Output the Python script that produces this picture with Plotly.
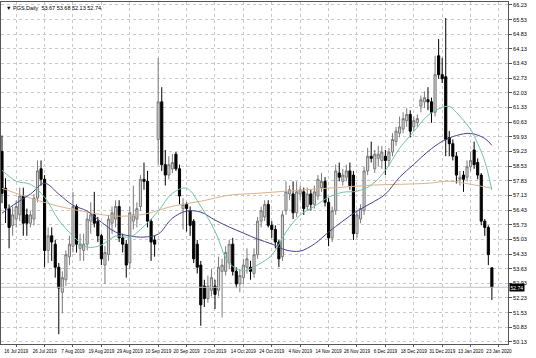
import plotly.graph_objects as go

# ---------------- data ----------------
tick_labels = ["16 Jul 2019", "26 Jul 2019", "7 Aug 2019", "19 Aug 2019", "29 Aug 2019",
               "10 Sep 2019", "20 Sep 2019", "2 Oct 2019", "14 Oct 2019", "24 Oct 2019",
               "4 Nov 2019", "14 Nov 2019", "26 Nov 2019", "6 Dec 2019", "18 Dec 2019",
               "31 Dec 2019", "13 Jan 2020", "23 Jan 2020"]

bar_open = [59.23, 57.47, 56.50, 55.70, 56.00, 56.20, 57.10, 56.20, 55.80, 56.00,
            57.00, 58.40, 57.90, 54.50, 55.20, 54.80, 53.70, 52.50, 53.10, 54.20,
            54.70, 56.60, 54.60, 54.50, 54.80, 55.90, 56.20, 55.90, 55.20, 53.80,
            54.30, 55.80, 56.00, 56.60, 55.10, 54.80, 53.90, 55.90, 56.00, 56.60,
            57.90, 57.80, 55.90, 55.00, 59.80, 61.60, 58.60, 58.10, 58.40, 59.10,
            58.40, 56.50, 56.70, 56.40, 55.90, 54.80, 53.80, 52.80, 52.20, 52.60,
            52.80, 52.60, 53.50, 53.50, 53.90, 54.80, 53.50, 52.90, 53.20, 53.70,
            53.70, 53.40, 54.30, 55.90, 56.10, 56.70, 55.70, 55.50, 54.90, 54.20,
            56.40, 57.20, 57.20, 56.30, 57.20, 57.30, 56.60, 57.20, 56.70, 57.10,
            57.50, 57.80, 56.80, 55.10, 56.40, 58.20, 57.80, 58.00, 58.30, 58.10,
            55.30, 56.00, 56.40, 58.30, 59.00, 58.40, 58.90, 58.80, 59.00, 58.80,
            59.20, 59.70, 60.10, 60.30, 60.70, 61.00, 60.40, 60.60, 61.40, 61.60,
            61.70, 61.60, 61.10, 63.80, 62.90, 62.80, 59.90, 59.60, 59.00, 57.90,
            58.10, 58.00, 58.50, 59.30, 58.70, 58.10, 55.90, 55.60, 53.67]
bar_high = [59.99, 57.95, 56.70, 56.60, 56.90, 57.50, 57.50, 56.50, 56.40, 57.20,
            58.80, 58.80, 58.10, 55.60, 55.60, 55.00, 53.90, 53.50, 54.50, 55.20,
            57.30, 56.70, 55.30, 55.30, 56.30, 56.80, 57.30, 56.10, 55.30, 54.70,
            56.20, 56.60, 56.90, 56.90, 55.30, 55.00, 56.60, 57.60, 56.80, 58.10,
            58.70, 58.30, 56.00, 55.20, 63.70, 62.30, 59.30, 59.00, 59.10, 59.20,
            58.60, 57.00, 56.80, 56.60, 56.00, 55.00, 54.00, 53.10, 53.30, 53.60,
            53.10, 54.20, 54.10, 54.70, 55.00, 55.10, 53.70, 53.60, 54.10, 54.60,
            54.00, 54.60, 56.10, 56.60, 56.90, 56.90, 55.90, 55.70, 55.00, 56.40,
            57.80, 57.60, 57.80, 57.80, 57.60, 57.50, 57.50, 57.40, 57.60, 58.10,
            58.20, 58.00, 57.00, 56.60, 58.60, 58.70, 58.40, 58.60, 58.70, 58.30,
            56.40, 56.70, 58.50, 59.40, 59.70, 59.30, 59.50, 59.50, 59.30, 59.40,
            60.10, 60.40, 60.90, 61.10, 61.30, 61.20, 60.90, 61.00, 61.90, 62.10,
            62.30, 61.80, 63.80, 64.60, 63.70, 65.60, 60.20, 59.80, 59.20, 58.30,
            58.30, 58.80, 59.20, 59.70, 58.90, 58.20, 56.00, 55.70, 53.68]
bar_low = [56.76, 55.81, 54.60, 55.20, 55.60, 55.90, 55.20, 55.20, 55.60, 55.70,
           56.80, 57.60, 53.70, 53.90, 54.00, 53.20, 50.50, 51.50, 52.80, 53.80,
           54.40, 54.40, 54.00, 54.00, 54.50, 55.30, 55.60, 54.90, 53.80, 52.90,
           54.00, 55.30, 55.60, 54.90, 54.40, 53.20, 53.60, 55.50, 55.60, 56.40,
           57.40, 55.60, 54.00, 54.20, 58.60, 58.30, 57.60, 57.90, 58.20, 58.30,
           56.70, 55.50, 55.40, 55.20, 53.90, 53.40, 50.90, 51.80, 52.00, 52.30,
           51.70, 52.30, 51.30, 53.30, 53.60, 53.30, 52.70, 52.50, 52.90, 53.40,
           53.10, 53.20, 54.10, 55.60, 55.90, 55.60, 55.10, 54.60, 53.70, 54.00,
           56.20, 56.90, 56.00, 56.10, 56.90, 56.20, 56.40, 56.40, 56.50, 56.90,
           57.30, 56.60, 54.70, 54.90, 56.20, 57.80, 57.60, 57.80, 57.40, 55.00,
           55.10, 55.80, 56.20, 58.10, 58.70, 58.20, 58.50, 58.40, 58.10, 58.50,
           59.00, 59.50, 59.90, 60.10, 60.40, 59.90, 60.20, 60.40, 61.10, 61.30,
           61.20, 60.60, 60.90, 62.70, 62.50, 59.00, 59.00, 58.80, 57.70, 57.60,
           57.30, 57.80, 58.30, 58.40, 57.90, 55.70, 55.20, 53.80, 52.13]
bar_close = [57.23, 56.52, 55.60, 56.20, 56.60, 57.10, 55.80, 55.80, 56.20, 57.00,
             58.30, 57.90, 54.50, 55.20, 54.90, 53.70, 52.70, 53.20, 54.30, 54.80,
             56.60, 54.80, 54.80, 54.80, 56.00, 56.20, 55.80, 55.20, 54.10, 54.40,
             56.00, 56.30, 56.60, 55.10, 54.80, 53.80, 56.30, 56.20, 56.50, 57.90,
             57.80, 55.90, 54.90, 54.80, 61.60, 58.60, 58.10, 58.60, 58.70, 58.40,
             57.10, 56.70, 56.50, 55.70, 54.10, 53.70, 51.90, 52.20, 52.80, 53.20,
             52.40, 53.70, 53.80, 54.40, 54.80, 53.50, 52.90, 53.30, 53.80, 54.10,
             53.50, 54.30, 55.90, 56.40, 56.70, 55.70, 55.50, 54.90, 54.10, 56.20,
             57.30, 57.40, 56.30, 57.30, 57.40, 56.50, 57.20, 56.70, 57.30, 57.90,
             57.80, 56.80, 55.10, 56.40, 58.30, 58.00, 58.10, 58.30, 57.60, 55.30,
             56.20, 56.50, 58.30, 59.00, 58.90, 59.10, 59.10, 59.20, 58.80, 59.20,
             59.80, 60.20, 60.40, 60.80, 61.00, 60.20, 60.70, 60.80, 61.70, 61.80,
             61.60, 61.10, 62.90, 62.90, 62.70, 59.80, 59.60, 59.00, 58.10, 58.00,
             57.90, 58.50, 58.80, 58.60, 58.10, 55.90, 55.60, 54.30, 52.74]

ma_fast_idx = [0, 4, 8, 12, 16, 20, 24, 28, 32, 36, 40, 44, 48, 52, 56, 60, 64, 68, 72,
               76, 80, 84, 88, 92, 96, 100, 104, 108, 112, 116, 120, 124, 126, 128,
               132, 134, 136, 138]
ma_fast_val = [58.33, 57.81, 57.66, 57.04, 55.95, 55.19, 54.66, 54.76, 55.19, 55.14,
               55.66, 56.38, 57.23, 57.47, 56.61, 55.42, 53.90, 53.52, 53.81, 54.28,
               55.38, 56.19, 56.61, 57.04, 57.28, 57.33, 57.62, 58.33, 59.38, 60.18,
               60.95, 61.33, 61.38, 61.09, 60.28, 59.61, 58.76, 57.38]

ma_mid_idx = [0, 4, 8, 12, 16, 20, 24, 28, 32, 36, 40, 44, 48, 52, 56, 60, 64, 68, 72,
              76, 80, 84, 88, 92, 96, 100, 104, 108, 112, 116, 120, 124, 128, 132,
              136, 138]
ma_mid_val = [56.28, 56.76, 57.19, 57.71, 57.19, 56.66, 56.38, 55.85, 55.38, 55.19,
              55.14, 55.28, 56.04, 56.38, 56.33, 55.95, 55.62, 55.33, 55.04, 54.81,
              54.52, 54.47, 54.81, 55.38, 55.90, 56.38, 56.76, 57.19, 58.00, 58.61,
              59.23, 59.71, 59.99, 60.09, 59.85, 59.52]

ma_slow_idx = [0, 8, 16, 24, 32, 40, 48, 56, 64, 72, 80, 88, 96, 104, 112, 120, 126,
               132, 138]
ma_slow_val = [57.47, 57.00, 56.61, 56.33, 56.14, 56.23, 56.61, 56.85, 57.14, 57.23,
               57.33, 57.43, 57.52, 57.62, 57.66, 57.71, 57.81, 57.66, 57.47]

price_ticks = [50.13, 50.83, 51.53, 52.23, 52.93, 53.63, 54.33, 55.03, 55.73, 56.43,
               57.13, 57.83, 58.53, 59.23, 59.93, 60.63, 61.33, 62.03, 62.73, 63.43,
               64.13, 64.83, 65.53, 66.23]
last_price = 52.74
title_text = "▼ PGS,Daily  53.67 53.68 52.13 52.74"

# ---------------- figure ----------------
bars = list(range(len(bar_open)))
date_ticks = [8 * k + 4 for k in range(len(tick_labels))]
FONT = "Liberation Sans"

fig = go.Figure()
fig.add_trace(go.Candlestick(
    x=bars, open=bar_open, high=bar_high, low=bar_low, close=bar_close,
    increasing=dict(line=dict(color="#7a7a7a", width=1), fillcolor="#d6d6d6"),
    decreasing=dict(line=dict(color="#000000", width=1), fillcolor="#000000"),
    whiskerwidth=0, showlegend=False, hoverinfo="skip"))

for xs, ys, col in [(ma_slow_idx, ma_slow_val, "#d8b48c"),
                    (ma_mid_idx, ma_mid_val, "#45458f"),
                    (ma_fast_idx, ma_fast_val, "#72c2a6")]:
    fig.add_trace(go.Scatter(x=xs, y=ys, mode="lines",
                             line=dict(color=col, width=1, shape="spline", smoothing=1.0),
                             showlegend=False, hoverinfo="skip"))

fig.add_hline(y=last_price, line=dict(color="#c0c0c0", width=1))

fig.add_annotation(x=1, xref="paper", y=last_price, yref="y", xanchor="left",
                   yanchor="middle", xshift=1, text="52.74", showarrow=False,
                   bgcolor="#000000", borderpad=0.5,
                   font=dict(family=FONT, size=5, color="#ffffff"))
fig.add_annotation(x=0, xref="paper", y=1, yref="paper", xanchor="left", yanchor="top",
                   xshift=3, yshift=-1, text=title_text, showarrow=False,
                   font=dict(family=FONT, size=5.5, color="#000000"))

fig.update_layout(
    width=536, height=358,
    margin=dict(l=1, r=28, t=2, b=14),
    paper_bgcolor="#ffffff", plot_bgcolor="#ffffff",
    boxgap=0.15,
    font=dict(family=FONT, size=5.5, color="#000000"),
    xaxis=dict(range=[-0.28, 142.54], rangeslider=dict(visible=False),
               tickvals=date_ticks, ticktext=tick_labels, tickangle=0,
               ticks="outside", ticklen=2,
               tickcolor="#555555", showgrid=True, gridcolor="#c8c8c8", griddash="dot",
               gridwidth=1, showline=True, linecolor="#555555", linewidth=1, mirror=True,
               zeroline=False, tickfont=dict(family=FONT, size=4.6, color="#000000")),
    yaxis=dict(range=[50.03, 66.37], side="right", tickvals=price_ticks,
               ticktext=["%.2f" % v for v in price_ticks], ticks="outside", ticklen=3,
               tickcolor="#555555", showgrid=True, gridcolor="#c8c8c8", griddash="dot",
               gridwidth=1, showline=True, linecolor="#555555", linewidth=1, mirror=True,
               zeroline=False, tickfont=dict(family=FONT, size=5.5, color="#000000")),
)

fig.write_html("out.html")
